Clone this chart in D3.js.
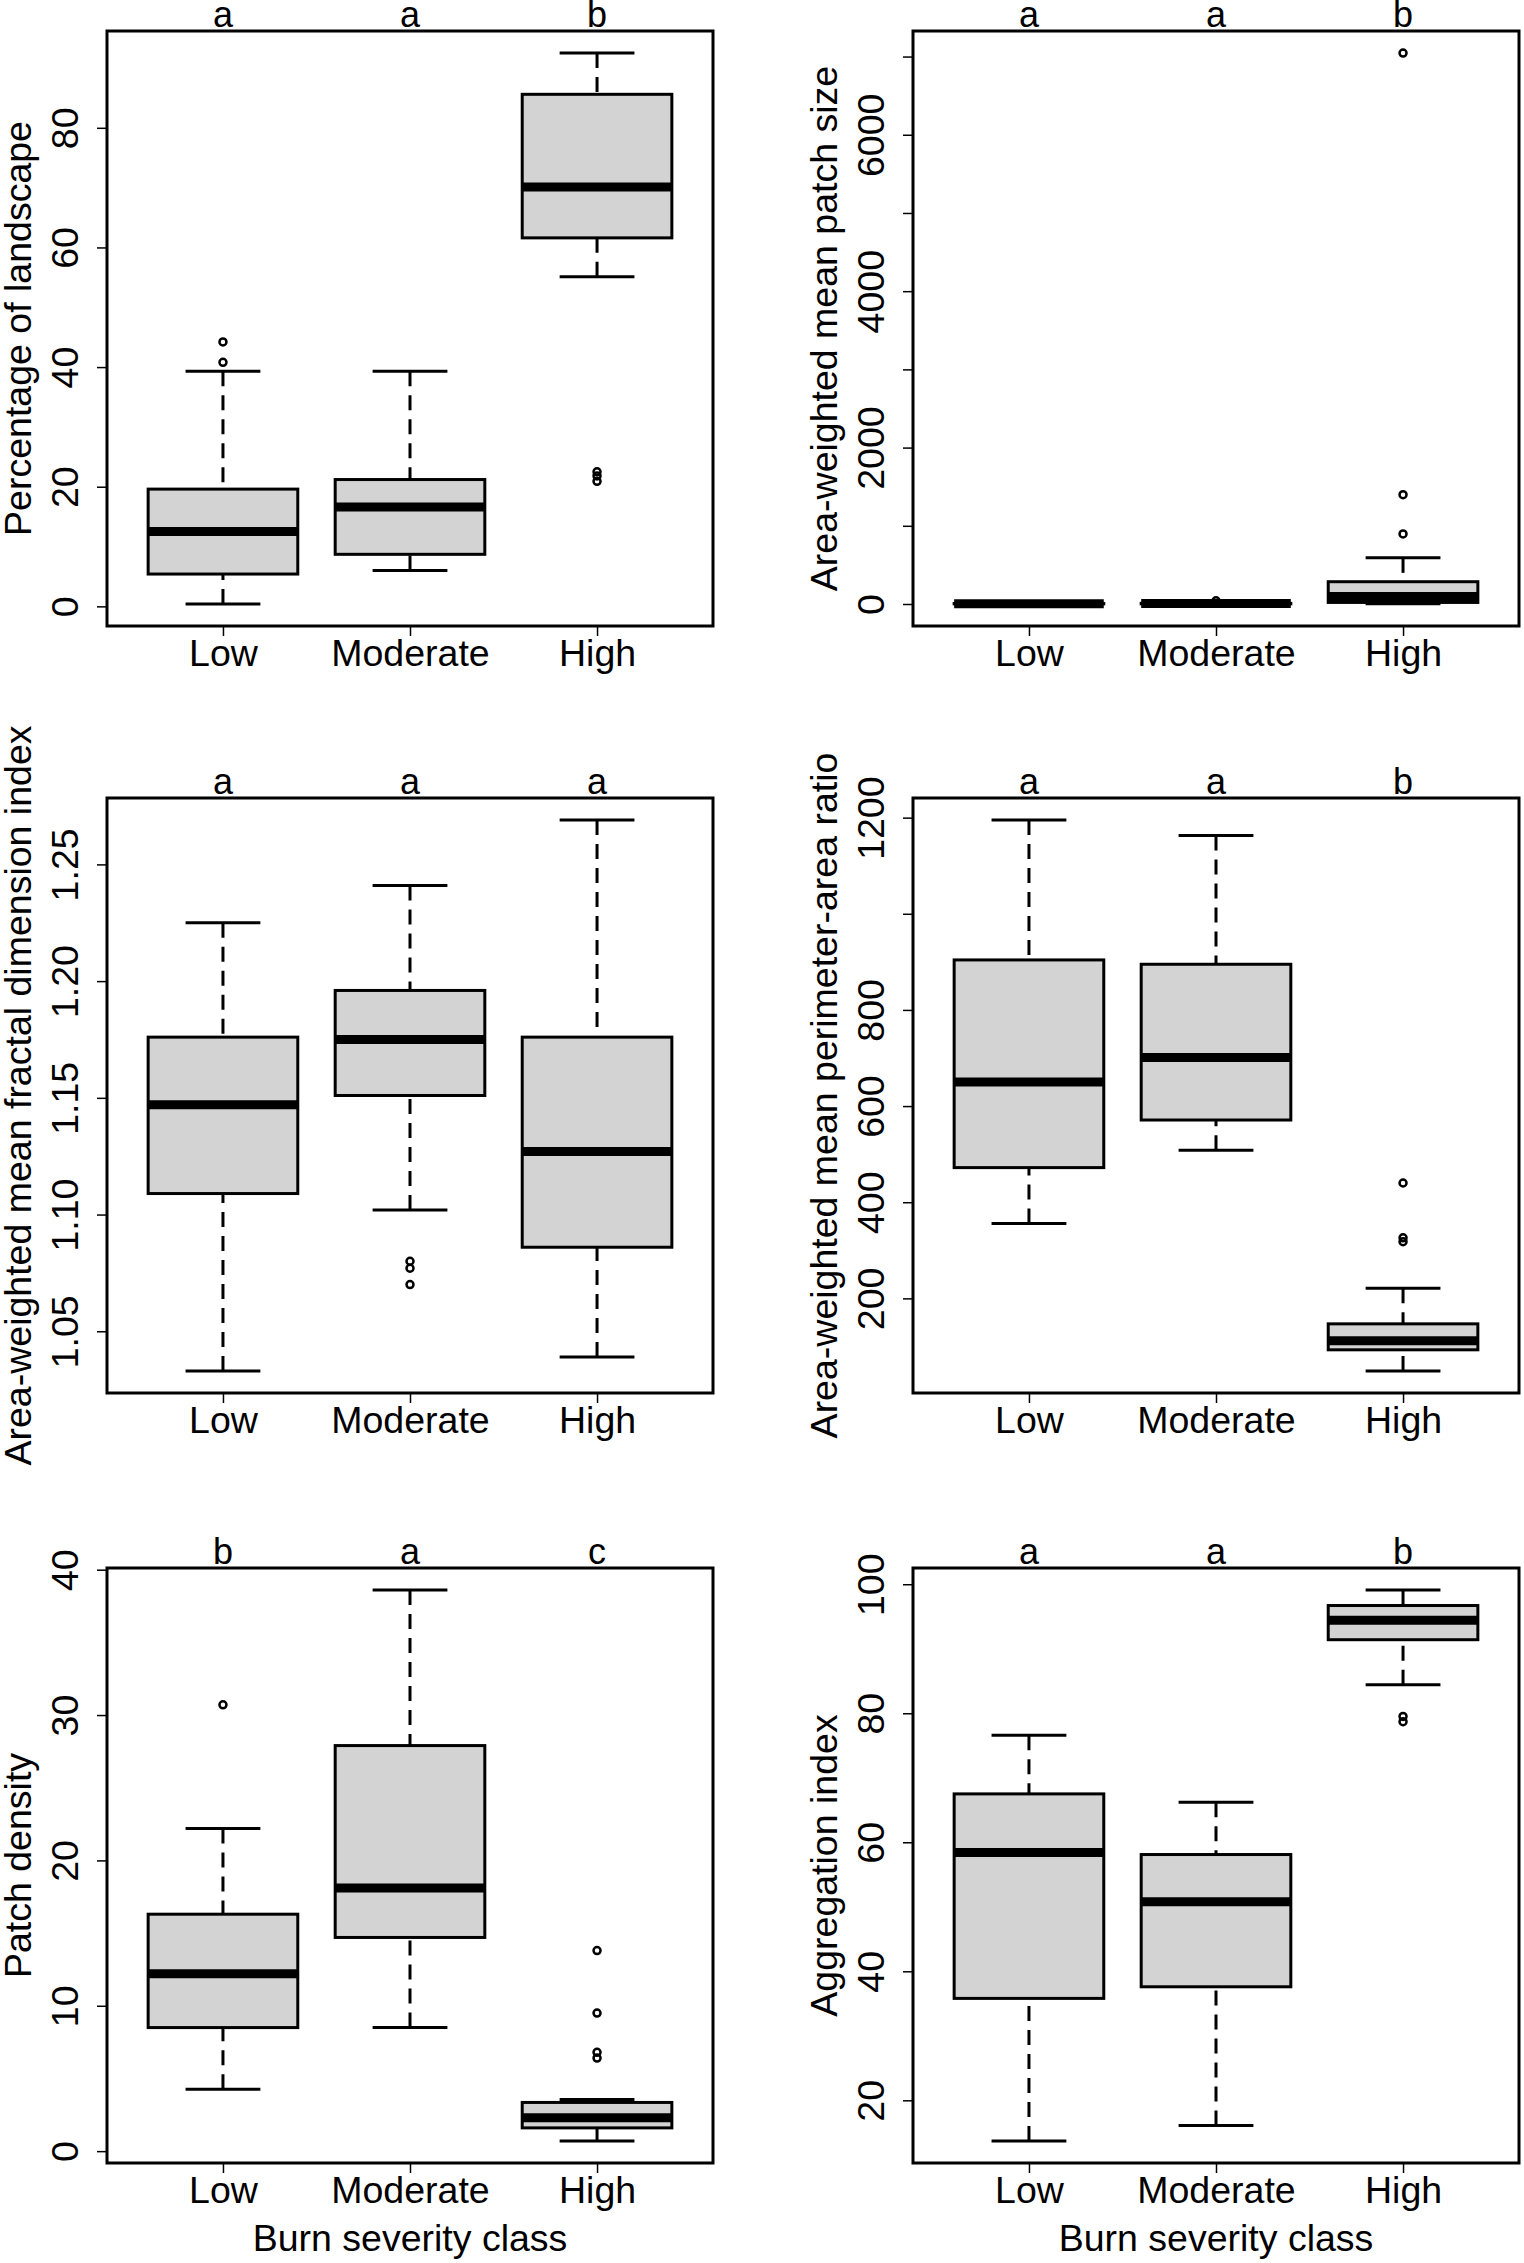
<!DOCTYPE html>
<html>
<head>
<meta charset="utf-8">
<script src="https://cdn.jsdelivr.net/npm/d3@7"></script>
<style>
  body { margin: 0; background: #fff; }
  text { font-family: "Liberation Sans", Arial, sans-serif; fill: #000; }
</style>
</head>
<body>
<script>
const WIDTH = 1524;
const HEIGHT = 2263;
const PLOT_W = 606;
const PLOT_H = 595;
const COLS = [107, 913];
const ROWS = [31, 798, 1568];
const FONT = 37.5;

const categories = ["Low", "Moderate", "High"];
const xLabel = "Burn severity class";

// boxplot stats per class: [lower whisker, Q1, median, Q3, upper whisker]
const pctStats = [[0.4, 5.4, 12.5, 19.6, 39.3], [6.0, 8.7, 16.6, 21.2, 39.3], [55.1, 61.6, 70.1, 85.6, 92.5]];
const pctOutliers = [[40.8, 44.2], [], [20.9, 21.8, 22.5]];
const pctLetters = ["a", "a", "b"];
const pctTicks = [0, 20, 40, 60, 80];
const pctTickLabels = ["0", "20", "40", "60", "80"];

const areaStats = [[0.5, 2, 4, 6, 12], [0.5, 2, 5, 8, 16], [2, 20, 95, 285, 590]];
const areaOutliers = [[], [40], [896, 1398, 7045]];
const areaLetters = ["a", "a", "b"];
const areaTicks = [0, 1000, 2000, 3000, 4000, 5000, 6000, 7000];
const areaTickLabels = ["0", "", "2000", "", "4000", "", "6000", ""];

const fracStats = [[1.033, 1.109, 1.147, 1.176, 1.225], [1.102, 1.151, 1.175, 1.196, 1.241], [1.039, 1.086, 1.127, 1.176, 1.269]];
const fracOutliers = [[], [1.070, 1.077, 1.080], []];
const fracLetters = ["a", "a", "a"];
const fracTicks = [1.05, 1.10, 1.15, 1.20, 1.25];
const fracTickLabels = ["1.05", "1.10", "1.15", "1.20", "1.25"];

const parStats = [[356, 472, 650, 904, 1195], [508, 571, 701, 895, 1163], [49, 93, 112, 147, 221]];
const parOutliers = [[], [], [318, 326, 440]];
const parLetters = ["a", "a", "b"];
const parTicks = [200, 400, 600, 800, 1000, 1200];
const parTickLabels = ["200", "400", "600", "800", "", "1200"];

const pdStats = [[4.25, 8.5, 12.2, 16.3, 22.2], [8.5, 14.7, 18.1, 27.9, 38.6], [0.7, 1.6, 2.3, 3.35, 3.55]];
const pdOutliers = [[30.7], [], [6.4, 6.8, 9.5, 13.8]];
const pdLetters = ["b", "a", "c"];
const pdTicks = [0, 10, 20, 30, 40];
const pdTickLabels = ["0", "10", "20", "30", "40"];

const aiStats = [[13.7, 35.8, 58.4, 67.5, 76.6], [16.1, 37.6, 50.8, 58.1, 66.2], [84.4, 91.4, 94.4, 96.7, 99.1]];
const aiOutliers = [[], [], [78.7, 79.5]];
const aiLetters = ["a", "a", "b"];
const aiTicks = [20, 40, 60, 80, 100];
const aiTickLabels = ["20", "40", "60", "80", "100"];

const panels = [
  {title: "Percentage of landscape", stats: pctStats, out: pctOutliers, letters: pctLetters, ticks: pctTicks, labels: pctTickLabels},
  {title: "Area-weighted mean patch size", stats: areaStats, out: areaOutliers, letters: areaLetters, ticks: areaTicks, labels: areaTickLabels},
  {title: "Area-weighted mean fractal dimension index", stats: fracStats, out: fracOutliers, letters: fracLetters, ticks: fracTicks, labels: fracTickLabels},
  {title: "Area-weighted mean perimeter-area ratio", stats: parStats, out: parOutliers, letters: parLetters, ticks: parTicks, labels: parTickLabels},
  {title: "Patch density", stats: pdStats, out: pdOutliers, letters: pdLetters, ticks: pdTicks, labels: pdTickLabels},
  {title: "Aggregation index", stats: aiStats, out: aiOutliers, letters: aiLetters, ticks: aiTicks, labels: aiTickLabels}
];

var translate = function(x, y){
  return "translate(" + x + "," + y + ")";
};

var svg = d3.select('body')
  .append('svg')
  .attr('width', WIDTH)
  .attr('height', HEIGHT);

// x like R boxplot: xlim c(0.5, 3.5) widened by 4%
var xScale = d3.scaleLinear()
  .domain([0.38, 3.62])
  .range([0, PLOT_W]);

var drawPanel = function(p, left, top, showXLabel){
  var g = svg.append('g').attr('transform', translate(left, top));

  var ext = d3.extent(d3.merge(p.stats.concat(p.out)));
  var pad = (ext[1] - ext[0]) * 0.04;
  var yScale = d3.scaleLinear()
    .domain([ext[0] - pad, ext[1] + pad])
    .range([PLOT_H, 0]);

  var yAxis = d3.axisLeft(yScale)
    .tickValues(p.ticks)
    .tickFormat(function(d, i){ return p.labels[i]; })
    .tickSize(10);

  var ya = g.append('g').call(yAxis);
  ya.select('.domain').remove();
  ya.selectAll('line').attr('stroke-width', 1.5);
  ya.selectAll('text')
    .attr('font-size', FONT)
    .attr('font-family', '"Liberation Sans", Arial, sans-serif')
    .attr('x', 0).attr('dy', 0)
    .attr('text-anchor', 'middle')
    .attr('transform', 'translate(-29,0) rotate(-90)');

  var xAxis = d3.axisBottom(xScale)
    .tickValues([1, 2, 3])
    .tickFormat(function(d, i){ return categories[i]; })
    .tickSize(10);

  var xa = g.append('g').attr('transform', translate(0, PLOT_H)).call(xAxis);
  xa.select('.domain').remove();
  xa.selectAll('line').attr('stroke-width', 1.5);
  xa.selectAll('text')
    .attr('font-size', FONT)
    .attr('font-family', '"Liberation Sans", Arial, sans-serif')
    .attr('y', 40).attr('dy', 0);

  var boxes = g.selectAll('.box')
    .data(p.stats)
    .enter()
    .append('g')
    .classed('box', true);

  // whiskers, dashed, drawn from the staple toward the box
  boxes.append('line')
    .attr('x1', function(d, i){ return xScale(i + 1); })
    .attr('x2', function(d, i){ return xScale(i + 1); })
    .attr('y1', function(d){ return yScale(d[0]); })
    .attr('y2', function(d){ return yScale(d[1]); })
    .attr('stroke', '#000').attr('stroke-width', 3).attr('stroke-dasharray', '15,9');
  boxes.append('line')
    .attr('x1', function(d, i){ return xScale(i + 1); })
    .attr('x2', function(d, i){ return xScale(i + 1); })
    .attr('y1', function(d){ return yScale(d[4]); })
    .attr('y2', function(d){ return yScale(d[3]); })
    .attr('stroke', '#000').attr('stroke-width', 3).attr('stroke-dasharray', '15,9');

  // staples
  [0, 4].forEach(function(k){
    boxes.append('line')
      .attr('x1', function(d, i){ return xScale(i + 0.8); })
      .attr('x2', function(d, i){ return xScale(i + 1.2); })
      .attr('y1', function(d){ return yScale(d[k]); })
      .attr('y2', function(d){ return yScale(d[k]); })
      .attr('stroke', '#000').attr('stroke-width', 3);
  });

  boxes.append('rect')
    .attr('x', function(d, i){ return xScale(i + 0.6); })
    .attr('width', xScale(1.4) - xScale(0.6))
    .attr('y', function(d){ return yScale(d[3]); })
    .attr('height', function(d){ return yScale(d[1]) - yScale(d[3]); })
    .attr('fill', '#d3d3d3')
    .attr('stroke', '#000').attr('stroke-width', 3);

  boxes.append('line')
    .attr('x1', function(d, i){ return xScale(i + 0.6); })
    .attr('x2', function(d, i){ return xScale(i + 1.4); })
    .attr('y1', function(d){ return yScale(d[2]); })
    .attr('y2', function(d){ return yScale(d[2]); })
    .attr('stroke', '#000').attr('stroke-width', 9);

  p.out.forEach(function(vals, i){
    g.selectAll('.out' + i)
      .data(vals)
      .enter()
      .append('circle')
      .attr('cx', xScale(i + 1))
      .attr('cy', function(d){ return yScale(d); })
      .attr('r', 3.5)
      .attr('fill', 'none')
      .attr('stroke', '#000').attr('stroke-width', 2.5);
  });

  g.selectAll('.letter')
    .data(p.letters)
    .enter()
    .append('text')
    .attr('x', function(d, i){ return xScale(i + 1); })
    .attr('y', -4)
    .attr('text-anchor', 'middle')
    .attr('font-size', 36)
    .text(function(d){ return d; });

  g.append('rect')
    .attr('width', PLOT_W).attr('height', PLOT_H)
    .attr('fill', 'none')
    .attr('stroke', '#000').attr('stroke-width', 3);

  g.append('text')
    .attr('transform', translate(-76, PLOT_H / 2) + ' rotate(-90)')
    .attr('text-anchor', 'middle')
    .attr('font-size', FONT)
    .text(p.title);

  if (showXLabel) {
    g.append('text')
      .attr('x', PLOT_W / 2)
      .attr('y', PLOT_H + 88)
      .attr('text-anchor', 'middle')
      .attr('font-size', FONT)
      .text(xLabel);
  }
};

panels.forEach(function(p, i){
  var row = Math.floor(i / 2), col = i % 2;
  drawPanel(p, COLS[col], ROWS[row], row === 2);
});
</script>
</body>
</html>
